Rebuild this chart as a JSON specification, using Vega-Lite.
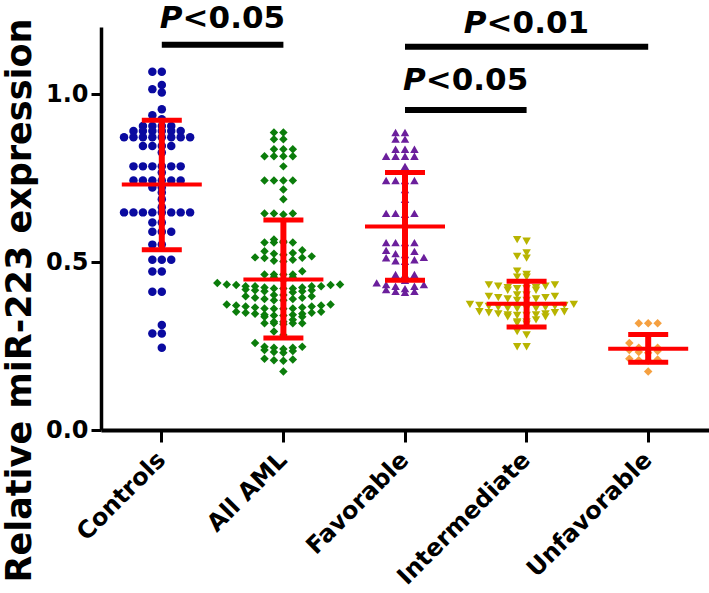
{
"$schema":"https://vega.github.io/schema/vega-lite/v6.json",
"width":608,"height":403,
"autosize":{"type":"none"},
"padding":{"left":101,"top":27,"right":0,"bottom":163},
"background":"white",
"config":{"view":{"stroke":null},"font":"DejaVu Sans"},
"datasets":{
"points":[
{"group":"Controls","value":1.067},{"group":"Controls","value":1.067},{"group":"Controls","value":1.027},{"group":"Controls","value":1.015},{"group":"Controls","value":1.005},{"group":"Controls","value":0.955},{"group":"Controls","value":0.937},{"group":"Controls","value":0.925},
{"group":"Controls","value":0.905},{"group":"Controls","value":0.905},{"group":"Controls","value":0.905},{"group":"Controls","value":0.905},
{"group":"Controls","value":0.89},{"group":"Controls","value":0.89},{"group":"Controls","value":0.89},{"group":"Controls","value":0.89},{"group":"Controls","value":0.89},{"group":"Controls","value":0.89},
{"group":"Controls","value":0.872},{"group":"Controls","value":0.872},{"group":"Controls","value":0.872},{"group":"Controls","value":0.872},{"group":"Controls","value":0.872},{"group":"Controls","value":0.872},{"group":"Controls","value":0.872},{"group":"Controls","value":0.872},
{"group":"Controls","value":0.846},{"group":"Controls","value":0.846},{"group":"Controls","value":0.846},{"group":"Controls","value":0.846},{"group":"Controls","value":0.826},
{"group":"Controls","value":0.785},{"group":"Controls","value":0.785},{"group":"Controls","value":0.785},{"group":"Controls","value":0.785},{"group":"Controls","value":0.785},{"group":"Controls","value":0.785},{"group":"Controls","value":0.767},
{"group":"Controls","value":0.743},{"group":"Controls","value":0.743},{"group":"Controls","value":0.743},{"group":"Controls","value":0.743},{"group":"Controls","value":0.743},{"group":"Controls","value":0.743},
{"group":"Controls","value":0.722},{"group":"Controls","value":0.722},{"group":"Controls","value":0.707},{"group":"Controls","value":0.687},{"group":"Controls","value":0.663},
{"group":"Controls","value":0.648},{"group":"Controls","value":0.648},{"group":"Controls","value":0.648},{"group":"Controls","value":0.648},{"group":"Controls","value":0.648},{"group":"Controls","value":0.648},{"group":"Controls","value":0.648},{"group":"Controls","value":0.648},
{"group":"Controls","value":0.618},{"group":"Controls","value":0.618},{"group":"Controls","value":0.59},{"group":"Controls","value":0.59},{"group":"Controls","value":0.59},{"group":"Controls","value":0.552},{"group":"Controls","value":0.552},
{"group":"Controls","value":0.507},{"group":"Controls","value":0.507},{"group":"Controls","value":0.507},{"group":"Controls","value":0.472},{"group":"Controls","value":0.472},{"group":"Controls","value":0.412},{"group":"Controls","value":0.412},
{"group":"Controls","value":0.313},{"group":"Controls","value":0.287},{"group":"Controls","value":0.287},{"group":"Controls","value":0.245},
{"group":"Favorable","value":0.886},{"group":"Favorable","value":0.886},{"group":"Favorable","value":0.866},{"group":"Favorable","value":0.866},{"group":"Favorable","value":0.836},{"group":"Favorable","value":0.836},{"group":"Favorable","value":0.836},
{"group":"Favorable","value":0.815},{"group":"Favorable","value":0.815},{"group":"Favorable","value":0.815},{"group":"Favorable","value":0.815},{"group":"Favorable","value":0.785},
{"group":"Favorable","value":0.743},{"group":"Favorable","value":0.743},{"group":"Favorable","value":0.743},{"group":"Favorable","value":0.743},{"group":"Favorable","value":0.716},{"group":"Favorable","value":0.687},
{"group":"Favorable","value":0.645},{"group":"Favorable","value":0.645},{"group":"Favorable","value":0.645},{"group":"Favorable","value":0.642},
{"group":"Favorable","value":0.558},{"group":"Favorable","value":0.558},{"group":"Favorable","value":0.558},{"group":"Favorable","value":0.558},
{"group":"Favorable","value":0.535},{"group":"Favorable","value":0.522},{"group":"Favorable","value":0.513},{"group":"Favorable","value":0.502},{"group":"Favorable","value":0.532},{"group":"Favorable","value":0.504},{"group":"Favorable","value":0.507},{"group":"Favorable","value":0.514},{"group":"Favorable","value":0.525},
{"group":"Favorable","value":0.463},{"group":"Favorable","value":0.463},{"group":"Favorable","value":0.463},
{"group":"Favorable","value":0.446},{"group":"Favorable","value":0.433},{"group":"Favorable","value":0.428},{"group":"Favorable","value":0.421},{"group":"Favorable","value":0.413},{"group":"Favorable","value":0.41},{"group":"Favorable","value":0.413},{"group":"Favorable","value":0.418},{"group":"Favorable","value":0.428},{"group":"Favorable","value":0.433},{"group":"Favorable","value":0.438},
{"group":"Intermediate","value":0.567},{"group":"Intermediate","value":0.562},{"group":"Intermediate","value":0.527},{"group":"Intermediate","value":0.517},{"group":"Intermediate","value":0.512},{"group":"Intermediate","value":0.473},{"group":"Intermediate","value":0.463},{"group":"Intermediate","value":0.455},{"group":"Intermediate","value":0.455},
{"group":"Intermediate","value":0.432},{"group":"Intermediate","value":0.428},{"group":"Intermediate","value":0.424},{"group":"Intermediate","value":0.421},{"group":"Intermediate","value":0.416},{"group":"Intermediate","value":0.416},{"group":"Intermediate","value":0.421},{"group":"Intermediate","value":0.424},{"group":"Intermediate","value":0.428},{"group":"Intermediate","value":0.432},
{"group":"Intermediate","value":0.402},{"group":"Intermediate","value":0.398},{"group":"Intermediate","value":0.394},{"group":"Intermediate","value":0.39},{"group":"Intermediate","value":0.386},{"group":"Intermediate","value":0.386},{"group":"Intermediate","value":0.39},{"group":"Intermediate","value":0.394},{"group":"Intermediate","value":0.398},{"group":"Intermediate","value":0.402},
{"group":"Intermediate","value":0.374},{"group":"Intermediate","value":0.371},{"group":"Intermediate","value":0.368},{"group":"Intermediate","value":0.365},{"group":"Intermediate","value":0.362},{"group":"Intermediate","value":0.361},{"group":"Intermediate","value":0.361},{"group":"Intermediate","value":0.362},{"group":"Intermediate","value":0.365},{"group":"Intermediate","value":0.368},{"group":"Intermediate","value":0.371},{"group":"Intermediate","value":0.374},
{"group":"Intermediate","value":0.352},{"group":"Intermediate","value":0.349},{"group":"Intermediate","value":0.346},{"group":"Intermediate","value":0.343},{"group":"Intermediate","value":0.341},{"group":"Intermediate","value":0.337},{"group":"Intermediate","value":0.337},{"group":"Intermediate","value":0.341},{"group":"Intermediate","value":0.343},{"group":"Intermediate","value":0.346},{"group":"Intermediate","value":0.349},{"group":"Intermediate","value":0.352},
{"group":"Intermediate","value":0.328},{"group":"Intermediate","value":0.322},{"group":"Intermediate","value":0.318},{"group":"Intermediate","value":0.322},{"group":"Intermediate","value":0.315},{"group":"Intermediate","value":0.293},{"group":"Intermediate","value":0.283},{"group":"Intermediate","value":0.248},{"group":"Intermediate","value":0.248},
{"group":"Unfavorable","value":0.318},{"group":"Unfavorable","value":0.318},{"group":"Unfavorable","value":0.318},{"group":"Unfavorable","value":0.259},{"group":"Unfavorable","value":0.23},{"group":"Unfavorable","value":0.232},{"group":"Unfavorable","value":0.235},{"group":"Unfavorable","value":0.238},{"group":"Unfavorable","value":0.241},{"group":"Unfavorable","value":0.245},{"group":"Unfavorable","value":0.245},{"group":"Unfavorable","value":0.212},{"group":"Unfavorable","value":0.208},{"group":"Unfavorable","value":0.21},{"group":"Unfavorable","value":0.206},{"group":"Unfavorable","value":0.174},
{"group":"All AML","value":0.886},{"group":"All AML","value":0.886},{"group":"All AML","value":0.866},{"group":"All AML","value":0.866},{"group":"All AML","value":0.836},{"group":"All AML","value":0.836},{"group":"All AML","value":0.836},
{"group":"All AML","value":0.815},{"group":"All AML","value":0.815},{"group":"All AML","value":0.815},{"group":"All AML","value":0.815},{"group":"All AML","value":0.785},
{"group":"All AML","value":0.743},{"group":"All AML","value":0.743},{"group":"All AML","value":0.743},{"group":"All AML","value":0.743},{"group":"All AML","value":0.716},{"group":"All AML","value":0.687},
{"group":"All AML","value":0.645},{"group":"All AML","value":0.645},{"group":"All AML","value":0.645},{"group":"All AML","value":0.642},
{"group":"All AML","value":0.558},{"group":"All AML","value":0.558},{"group":"All AML","value":0.558},{"group":"All AML","value":0.558},
{"group":"All AML","value":0.535},{"group":"All AML","value":0.522},{"group":"All AML","value":0.513},{"group":"All AML","value":0.502},{"group":"All AML","value":0.532},{"group":"All AML","value":0.504},{"group":"All AML","value":0.507},{"group":"All AML","value":0.514},{"group":"All AML","value":0.525},
{"group":"All AML","value":0.463},{"group":"All AML","value":0.463},{"group":"All AML","value":0.463},
{"group":"All AML","value":0.446},{"group":"All AML","value":0.433},{"group":"All AML","value":0.428},{"group":"All AML","value":0.421},{"group":"All AML","value":0.413},{"group":"All AML","value":0.41},{"group":"All AML","value":0.413},{"group":"All AML","value":0.418},{"group":"All AML","value":0.428},{"group":"All AML","value":0.433},{"group":"All AML","value":0.438},
{"group":"All AML","value":0.567},{"group":"All AML","value":0.562},{"group":"All AML","value":0.527},{"group":"All AML","value":0.517},{"group":"All AML","value":0.512},{"group":"All AML","value":0.473},{"group":"All AML","value":0.463},{"group":"All AML","value":0.455},{"group":"All AML","value":0.455},
{"group":"All AML","value":0.432},{"group":"All AML","value":0.428},{"group":"All AML","value":0.424},{"group":"All AML","value":0.421},{"group":"All AML","value":0.416},{"group":"All AML","value":0.416},{"group":"All AML","value":0.421},{"group":"All AML","value":0.424},{"group":"All AML","value":0.428},{"group":"All AML","value":0.432},
{"group":"All AML","value":0.402},{"group":"All AML","value":0.398},{"group":"All AML","value":0.394},{"group":"All AML","value":0.39},{"group":"All AML","value":0.386},{"group":"All AML","value":0.386},{"group":"All AML","value":0.39},{"group":"All AML","value":0.394},{"group":"All AML","value":0.398},{"group":"All AML","value":0.402},
{"group":"All AML","value":0.374},{"group":"All AML","value":0.371},{"group":"All AML","value":0.368},{"group":"All AML","value":0.365},{"group":"All AML","value":0.362},{"group":"All AML","value":0.361},{"group":"All AML","value":0.361},{"group":"All AML","value":0.362},{"group":"All AML","value":0.365},{"group":"All AML","value":0.368},{"group":"All AML","value":0.371},{"group":"All AML","value":0.374},
{"group":"All AML","value":0.352},{"group":"All AML","value":0.349},{"group":"All AML","value":0.346},{"group":"All AML","value":0.343},{"group":"All AML","value":0.341},{"group":"All AML","value":0.337},{"group":"All AML","value":0.337},{"group":"All AML","value":0.341},{"group":"All AML","value":0.343},{"group":"All AML","value":0.346},{"group":"All AML","value":0.349},{"group":"All AML","value":0.352},
{"group":"All AML","value":0.328},{"group":"All AML","value":0.322},{"group":"All AML","value":0.318},{"group":"All AML","value":0.322},{"group":"All AML","value":0.315},{"group":"All AML","value":0.293},{"group":"All AML","value":0.283},{"group":"All AML","value":0.248},{"group":"All AML","value":0.248},
{"group":"All AML","value":0.318},{"group":"All AML","value":0.318},{"group":"All AML","value":0.318},{"group":"All AML","value":0.259},{"group":"All AML","value":0.23},{"group":"All AML","value":0.232},{"group":"All AML","value":0.235},{"group":"All AML","value":0.238},{"group":"All AML","value":0.241},{"group":"All AML","value":0.245},{"group":"All AML","value":0.245},{"group":"All AML","value":0.212},{"group":"All AML","value":0.208},{"group":"All AML","value":0.21},{"group":"All AML","value":0.206},{"group":"All AML","value":0.174}
],
"stats":[
{"group":"Controls","mean":0.731,"lo":0.537,"hi":0.922},
{"group":"All AML","mean":0.448,"lo":0.274,"hi":0.625},
{"group":"Favorable","mean":0.606,"lo":0.446,"hi":0.767},
{"group":"Intermediate","mean":0.376,"lo":0.307,"hi":0.443},
{"group":"Unfavorable","mean":0.242,"lo":0.202,"hi":0.284}
],
"sig":[
{"from":"Controls","to":"All AML","label":"<0.05","barY":1.147,"textY":1.197,"span":1,"labelAt":"All AML"},
{"from":"Favorable","to":"Unfavorable","label":"<0.01","barY":1.141,"textY":1.182,"span":2,"labelAt":"Intermediate"},
{"from":"Favorable","to":"Intermediate","label":"<0.05","barY":0.953,"textY":1.013,"span":1,"labelAt":"Intermediate"}
]
},
"layer":[
{"data":{"name":"points"},
 "transform":[
  {"bin":{"step":0.02,"extent":[0,1.2]},"field":"value","as":"ybin"},
  {"window":[{"op":"row_number","as":"slot"}],"groupby":["group","ybin"],"sort":[{"field":"value","order":"ascending"}]}
 ],
 "mark":{"type":"point","filled":true,"opacity":1,"size":72,"strokeWidth":0},
 "encoding":{
  "x":{"field":"group","type":"nominal","scale":{"type":"band","domain":["Controls","All AML","Favorable","Intermediate","Unfavorable"],"paddingInner":0,"paddingOuter":0},
   "axis":{"title":null,"labelAngle":-45,"labelAlign":"right","labelBaseline":"middle","labelFont":"DejaVu Sans","labelFontSize":24,"labelFontWeight":"bold","labelColor":"black","labelPadding":14,"tickSize":12,"tickWidth":3,"tickColor":"black","domainColor":"black","domainWidth":4,"grid":false}},
  "xOffset":{"field":"slot","type":"ordinal","scale":{"type":"band","domain":[14,12,10,8,6,4,2,1,3,5,7,9,11,13,15],"paddingInner":0,"paddingOuter":0,"range":[-10,131.6]}},
  "y":{"field":"value","type":"quantitative","scale":{"domain":[0,1.2],"nice":false,"zero":true},
   "axis":{"title":"Relative miR-223 expression","values":[0,0.5,1],"format":".1f","labelFont":"DejaVu Sans","labelFontSize":24,"labelFontWeight":"bold","labelColor":"black","labelPadding":3,"tickSize":10,"tickWidth":3,"tickColor":"black","domainColor":"black","domainWidth":3.5,"grid":false,"titleFont":"DejaVu Sans","titleFontSize":35,"titleFontWeight":"bold","titleColor":"black","titlePadding":8,"titleY":273}},
  "color":{"field":"group","type":"nominal","scale":{"domain":["Controls","All AML","Favorable","Intermediate","Unfavorable"],"range":["#0a0aa0","#0b7d0b","#6b1f9c","#b8b400","#f5a040"]},"legend":null},
  "shape":{"field":"group","type":"nominal","scale":{"domain":["Controls","All AML","Favorable","Intermediate","Unfavorable"],"range":["circle","diamond","triangle-up","triangle-down","diamond"]},"legend":null}
 }
},
{"data":{"name":"stats"},
 "mark":{"type":"rule","color":"#ff0000","strokeWidth":6},
 "encoding":{"x":{"field":"group","type":"nominal"},"y":{"field":"lo","type":"quantitative"},"y2":{"field":"hi"}}},
{"data":{"name":"stats"},
 "mark":{"type":"tick","color":"#ff0000","size":80,"thickness":4,"opacity":1},
 "encoding":{"x":{"field":"group","type":"nominal"},"y":{"field":"mean","type":"quantitative"}}},
{"data":{"name":"stats"},
 "mark":{"type":"tick","color":"#ff0000","size":40,"thickness":5,"opacity":1},
 "encoding":{"x":{"field":"group","type":"nominal"},"y":{"field":"lo","type":"quantitative"}}},
{"data":{"name":"stats"},
 "mark":{"type":"tick","color":"#ff0000","size":40,"thickness":5,"opacity":1},
 "encoding":{"x":{"field":"group","type":"nominal"},"y":{"field":"hi","type":"quantitative"}}},
{"data":{"name":"sig"},
 "mark":{"type":"rule","color":"black","strokeWidth":6},
 "encoding":{"x":{"field":"from","type":"nominal"},"x2":{"field":"to"},"y":{"field":"barY","type":"quantitative"}}},
{"data":{"name":"sig"},"transform":[{"filter":"datum.span == 1"}],
 "mark":{"type":"text","text":"P","font":"DejaVu Sans","fontSize":31,"fontWeight":"bold","fontStyle":"italic","align":"right","baseline":"alphabetic","dx":-40,"color":"black"},
 "encoding":{"x":{"field":"labelAt","type":"nominal","bandPosition":0},"y":{"field":"textY","type":"quantitative"}}},
{"data":{"name":"sig"},"transform":[{"filter":"datum.span == 1"}],
 "mark":{"type":"text","font":"DejaVu Sans","fontSize":31,"fontWeight":"bold","align":"left","baseline":"alphabetic","dx":-40,"color":"black"},
 "encoding":{"x":{"field":"labelAt","type":"nominal","bandPosition":0},"y":{"field":"textY","type":"quantitative"},"text":{"field":"label"}}},
{"data":{"name":"sig"},"transform":[{"filter":"datum.span == 2"}],
 "mark":{"type":"text","text":"P","font":"DejaVu Sans","fontSize":31,"fontWeight":"bold","fontStyle":"italic","align":"right","baseline":"alphabetic","dx":-40,"color":"black"},
 "encoding":{"x":{"field":"labelAt","type":"nominal","bandPosition":0.5},"y":{"field":"textY","type":"quantitative"}}},
{"data":{"name":"sig"},"transform":[{"filter":"datum.span == 2"}],
 "mark":{"type":"text","font":"DejaVu Sans","fontSize":31,"fontWeight":"bold","align":"left","baseline":"alphabetic","dx":-40,"color":"black"},
 "encoding":{"x":{"field":"labelAt","type":"nominal","bandPosition":0.5},"y":{"field":"textY","type":"quantitative"},"text":{"field":"label"}}}
]
}
